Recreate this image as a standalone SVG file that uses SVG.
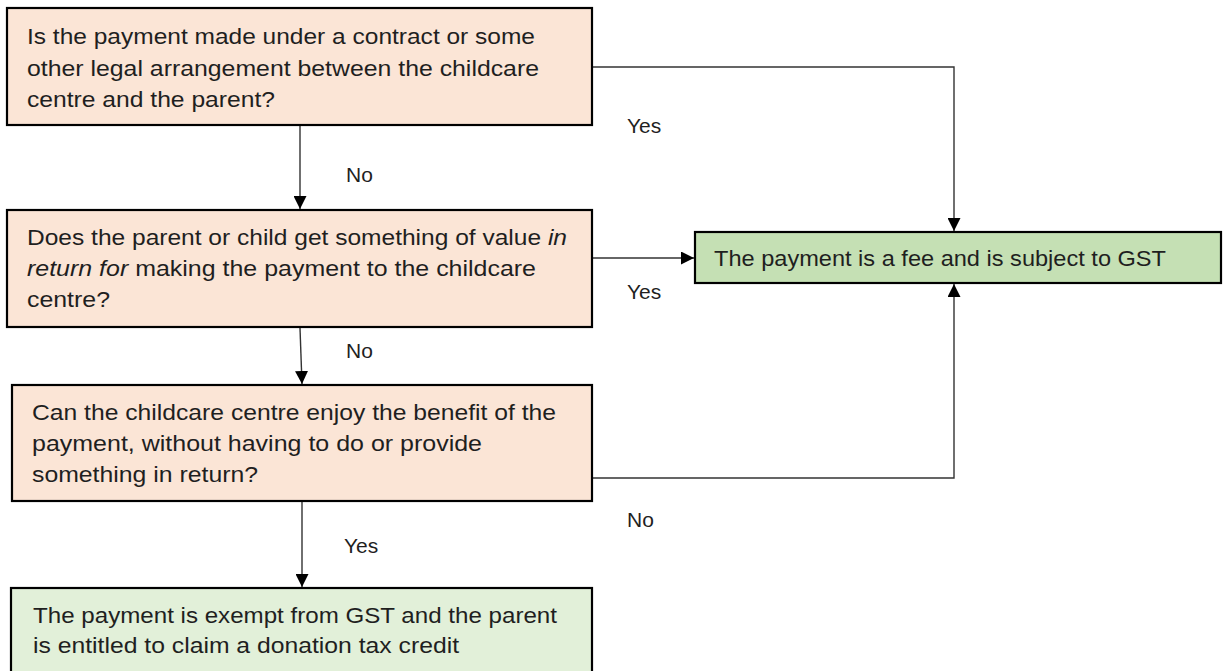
<svg xmlns="http://www.w3.org/2000/svg" width="1228" height="671" viewBox="0 0 1228 671">
  <style>
    .q { fill: #FBE5D6; stroke: #000; stroke-width: 2.2; }
    .fee { fill: #C5E0B4; stroke: #000; stroke-width: 2.2; }
    .ex { fill: #E2F0D9; stroke: #000; stroke-width: 2.2; }
    text { font-family: "Liberation Sans", Arial, sans-serif; font-size: 22px; fill: #1f1f1f; }
    .lbl { font-size: 21px; }
    .it { font-style: italic; }
    .conn { fill: none; stroke: #333; stroke-width: 1.4; }
  </style>
  <defs>
    <marker id="arr" markerUnits="userSpaceOnUse" markerWidth="14" markerHeight="13" refX="13" refY="6.5" orient="auto">
      <path d="M0,0 L13,6.5 L0,13 z" fill="#000"/>
    </marker>
  </defs>
  <rect width="1228" height="671" fill="#fff"/>

  <g id="connectors">
    <path class="conn" d="M592,67 H954 V231" marker-end="url(#arr)"/>
    <path class="conn" d="M300,126 V209" marker-end="url(#arr)"/>
    <path class="conn" d="M592,258 H694" marker-end="url(#arr)"/>
    <path class="conn" d="M300,328 L302,384" marker-end="url(#arr)"/>
    <path class="conn" d="M592,478 H954 V284" marker-end="url(#arr)"/>
    <path class="conn" d="M302,502 V587" marker-end="url(#arr)"/>
  </g>

  <g id="labels">
    <text class="lbl" x="346" y="182">No</text>
    <text class="lbl" x="627" y="133">Yes</text>
    <text class="lbl" x="627" y="299">Yes</text>
    <text class="lbl" x="346" y="358">No</text>
    <text class="lbl" x="627" y="527">No</text>
    <text class="lbl" x="344" y="553">Yes</text>
  </g>

  <g id="q1">
    <rect class="q" x="7" y="8" width="585" height="117"/>
    <text x="27" y="44" textLength="508" lengthAdjust="spacingAndGlyphs">Is the payment made under a contract or some</text>
    <text x="27" y="76" textLength="512" lengthAdjust="spacingAndGlyphs">other legal arrangement between the childcare</text>
    <text x="27" y="107" textLength="248" lengthAdjust="spacingAndGlyphs">centre and the parent?</text>
  </g>

  <g id="q2">
    <rect class="q" x="7" y="210" width="585" height="117"/>
    <text x="27" y="245" textLength="540" lengthAdjust="spacingAndGlyphs">Does the parent or child get something of value <tspan class="it">in</tspan></text>
    <text x="27" y="276" textLength="509" lengthAdjust="spacingAndGlyphs"><tspan class="it">return for</tspan> making the payment to the childcare</text>
    <text x="27" y="307" textLength="83" lengthAdjust="spacingAndGlyphs">centre?</text>
  </g>

  <g id="q3">
    <rect class="q" x="12" y="385" width="580" height="116"/>
    <text x="32" y="420" textLength="524" lengthAdjust="spacingAndGlyphs">Can the childcare centre enjoy the benefit of the</text>
    <text x="32" y="451" textLength="450" lengthAdjust="spacingAndGlyphs">payment, without having to do or provide</text>
    <text x="32" y="482" textLength="226" lengthAdjust="spacingAndGlyphs">something in return?</text>
  </g>

  <g id="fee">
    <rect class="fee" x="695" y="232" width="526" height="51"/>
    <text x="714" y="266" textLength="452" lengthAdjust="spacingAndGlyphs">The payment is a fee and is subject to GST</text>
  </g>

  <g id="exempt">
    <rect class="ex" x="11" y="588" width="581" height="95"/>
    <text x="33" y="623" textLength="524" lengthAdjust="spacingAndGlyphs">The payment is exempt from GST and the parent</text>
    <text x="33" y="653" textLength="426" lengthAdjust="spacingAndGlyphs">is entitled to claim a donation tax credit</text>
  </g>
</svg>
